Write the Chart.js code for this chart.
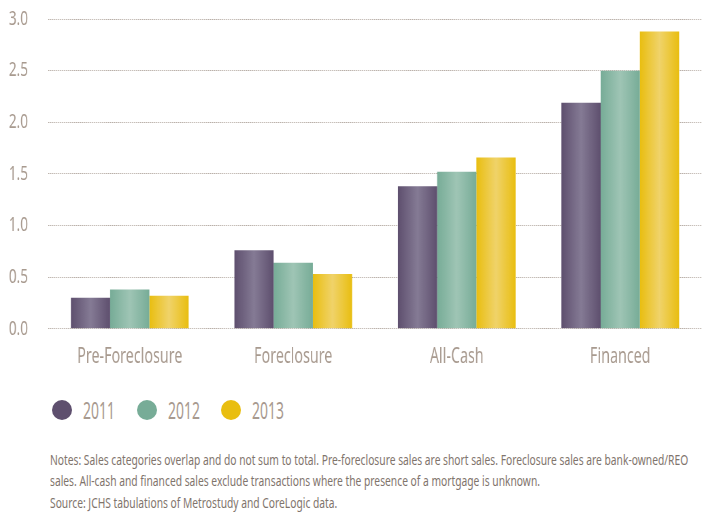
<!DOCTYPE html>
<html>
<head>
<meta charset="utf-8">
<script src="https://cdn.jsdelivr.net/npm/chart.js@4.4.1/dist/chart.umd.min.js"></script>
<style>
  html, body { margin: 0; padding: 0; background: #fff; }
  #wrap { position: relative; width: 702px; height: 384px; }
  .legend { position: absolute; left: 52px; top: 397px; display: flex; align-items: center;
            font-family: "Noto Sans", sans-serif; font-size: 24px; color: #a89a8f; line-height: 26px; }
  .legend .dot { display: inline-block; width: 20px; height: 20px; border-radius: 50%; margin-right: 11px; flex: none; }
  .legend .item { display: flex; align-items: center; width: 84.5px; }
  .legend .txt { display: inline-block; transform: scaleX(0.58); transform-origin: left center; }
  .notes { position: absolute; left: 50px; top: 450px; font-family: "Noto Sans", sans-serif;
           font-size: 14px; color: #7f746c; line-height: 20.5px; white-space: nowrap; transform-origin: left top; }
</style>
</head>
<body>
<!-- el lienzo se dibuja mas ancho y se comprime: texto estrecho como el original -->
<div id="wrap"><canvas id="grafico" width="1032" height="384" style="width:702px;height:384px"></canvas></div>
<div class="legend" id="legend"></div>
<div class="notes" id="notes">
  <div id="nota1">Notes: Sales categories overlap and do not sum to total. Pre-foreclosure sales are short sales. Foreclosure sales are bank-owned/REO</div>
  <div>sales. All-cash and financed sales exclude transactions where the presence of a mortgage is unknown.</div>
  <div style="margin-top:2px">Source: JCHS tabulations of Metrostudy and CoreLogic data.</div>
</div>
<script>
const categorias = ["Pre-Foreclosure", "Foreclosure", "All-Cash", "Financed"];
const anios = ["2011", "2012", "2013"];
const ventas2011 = [0.30, 0.76, 1.38, 2.19];
const ventas2012 = [0.38, 0.64, 1.52, 2.50];
const ventas2013 = [0.32, 0.53, 1.66, 2.88];
const yMin = 0, yMax = 3, yPaso = 0.5;

// colores: borde oscuro, centro claro
const colores = [
  ["#5e4f6e", "#857b95"],
  ["#77ac97", "#9fc5b5"],
  ["#e9be10", "#f0d36a"]
];

const fuente = '"Noto Sans", sans-serif';
const gris = '#a89a8f';
const k = 1032 / 702; // compresion horizontal del lienzo

// degradado horizontal por barra
const degradado = {
  id: 'degradado',
  beforeDatasetsDraw(chart) {
    const ctx = chart.ctx;
    chart.data.datasets.forEach((ds, i) => {
      chart.getDatasetMeta(i).data.forEach(bar => {
        const {x, width} = bar.getProps(['x', 'width'], true);
        const g = ctx.createLinearGradient(x - width / 2, 0, x + width / 2, 0);
        g.addColorStop(0, colores[i][0]);
        g.addColorStop(0.5, colores[i][1]);
        g.addColorStop(1, colores[i][0]);
        bar.options.backgroundColor = g;
      });
    });
  }
};

const series = [ventas2011, ventas2012, ventas2013];

new Chart(document.getElementById('grafico').getContext('2d'), {
  type: 'bar',
  data: {
    labels: categorias,
    datasets: anios.map((a, i) => ({
      label: a,
      data: series[i],
      backgroundColor: () => colores[i][0],
      borderWidth: 0,
      categoryPercentage: 0.72,
      barPercentage: 1
    }))
  },
  options: {
    responsive: false,
    animation: false,
    devicePixelRatio: 1,
    layout: { padding: { top: 19, left: 0, right: 0, bottom: 6 } },
    plugins: { legend: { display: false }, tooltip: { enabled: false } },
    scales: {
      x: {
        grid: { display: false },
        border: { display: false },
        ticks: { color: gris, font: { family: fuente, size: 21 }, padding: 8 }
      },
      y: {
        min: yMin, max: yMax,
        afterFit: s => { s.width = 48 * k; },
        grid: { color: '#a89c93', lineWidth: 1, tickLength: 22.4, tickColor: 'rgba(0,0,0,0)' },
        border: { display: false, dash: [k, k] },
        ticks: { stepSize: yPaso, color: gris, font: { family: fuente, size: 20 }, padding: 7,
                 callback: v => v.toFixed(1) }
      }
    }
  },
  plugins: [degradado]
});

// leyenda
const leyenda = document.getElementById('legend');
anios.forEach((a, i) => {
  const item = document.createElement('span');
  item.className = 'item';
  item.innerHTML = `<span class="dot" style="background:${colores[i][0]}"></span><span class="txt">${a}</span>`;
  leyenda.appendChild(item);
});

// notas: ajustar ancho al del original
const notas = document.getElementById('notes');
const ancho = document.getElementById('nota1').scrollWidth;
notas.style.transform = `scaleX(${638 / ancho})`;
</script>
</body>
</html>
